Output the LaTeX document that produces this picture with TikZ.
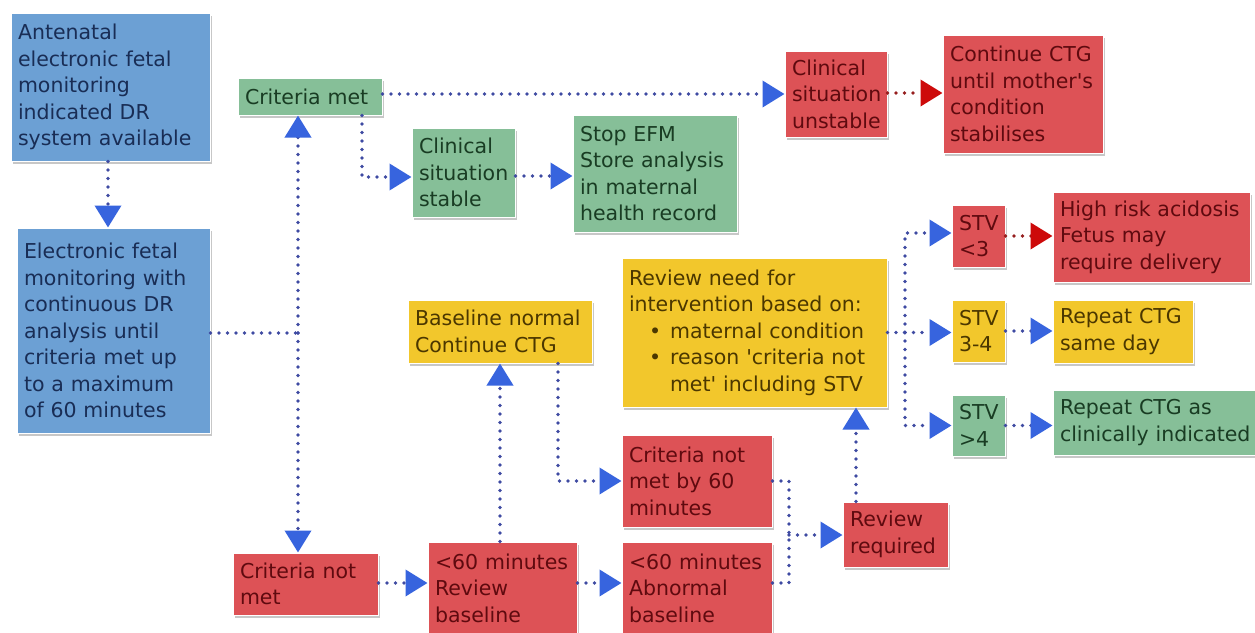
\documentclass[tikz,border=0pt]{standalone}
\usepackage{fontspec}
\setmainfont{DejaVu Sans}[Ligatures=TeXOff]
\usetikzlibrary{arrows.meta,shadows,calc}
\definecolor{bfill}{RGB}{108,160,212}
\definecolor{btext}{RGB}{25,45,85}
\definecolor{gfill}{RGB}{134,191,152}
\definecolor{gtext}{RGB}{25,60,35}
\definecolor{rfill}{RGB}{221,82,86}
\definecolor{rtext}{RGB}{95,10,15}
\definecolor{yfill}{RGB}{242,199,44}
\definecolor{ytext}{RGB}{75,55,0}
\definecolor{lineblue}{RGB}{62,74,162}
\definecolor{arrowblue}{RGB}{55,100,222}
\definecolor{arrowred}{RGB}{205,10,10}
\definecolor{linered}{RGB}{150,30,30}
\tikzset{
  box/.style={draw=white, line width=1pt, inner xsep=7pt, inner ysep=3pt, align=left,
    font=\fontsize{20.5}{26.5}\selectfont,
    drop shadow={shadow xshift=1.5pt, shadow yshift=-2.5pt, fill=black, opacity=0.22}},
  blu/.style={box, fill=bfill, text=btext},
  grn/.style={box, fill=gfill, text=gtext},
  rd/.style={box, fill=rfill, text=rtext},
  yel/.style={box, fill=yfill, text=ytext},
  dotline/.style={draw=lineblue, line width=3.8pt, line cap=round, dash pattern=on 0pt off 8.5pt},
  conn/.style={dotline, -{Triangle[length=22pt,width=26pt,color=arrowblue]}},
  rconn/.style={draw=linered, line width=3.8pt, line cap=round, dash pattern=on 0pt off 8.5pt,
    -{Triangle[length=22pt,width=26pt,color=arrowred]}}
}
\begin{document}
\begin{tikzpicture}[x=1pt,y=-1pt]
\fill[white] (0,0) rectangle (1255,632);
\useasboundingbox (0,0) rectangle (1255,632);
% boxes
\node[blu, text width=185pt, minimum height=148pt] (A) at (110.5,87) {Antenatal\\electronic fetal\\monitoring\\indicated DR\\system available};
\node[blu, text width=179pt, minimum height=205pt] (B) at (113.5,330.5) {Electronic fetal\\monitoring with\\continuous DR\\analysis until\\criteria met up\\to a maximum\\of 60 minutes};
\node[grn, text width=130pt, minimum height=37pt] (CM) at (310,96.5) {Criteria met};
\node[grn, text width=89pt, minimum height=89pt] (CS) at (463.5,172.5) {Clinical\\situation\\stable};
\node[grn, text width=150pt, minimum height=117pt] (SE) at (655,173.5) {Stop EFM\\Store analysis\\in maternal\\health record};
\node[rd, text width=88pt, minimum height=86pt] (CU) at (836,94) {Clinical\\situation\\unstable};
\node[rd, text width=146pt, minimum height=118pt] (CC) at (1023,94) {Continue CTG\\until mother's\\condition\\stabilises};
\node[rd, text width=39pt, minimum height=62pt] (S1) at (978.5,236) {STV\\<3};
\node[rd, text width=183pt, minimum height=90pt] (H1) at (1151.5,237) {High risk acidosis\\Fetus may\\require delivery};
\node[yel, text width=39pt, minimum height=62pt] (S2) at (978.5,331) {STV\\3-4};
\node[yel, text width=126pt, minimum height=63pt] (R2) at (1123,331.5) {Repeat CTG\\same day};
\node[grn, text width=39pt, minimum height=61pt] (S3) at (978.5,425.5) {STV\\>4};
\node[grn, text width=195pt, minimum height=65pt] (R3) at (1157.5,422.5) {Repeat CTG as\\clinically indicated};
\node[yel, text width=251pt, minimum height=149pt] (RN) at (754.5,332.5) {Review need for\\intervention based on:\\\hspace*{20pt}\textbullet\hspace{9pt}maternal condition\\\hspace*{20pt}\textbullet\hspace{9pt}reason 'criteria not\\\hspace*{41pt}met' including STV};
\node[yel, text width=170pt, minimum height=63pt] (BN) at (500,331.5) {Baseline normal\\Continue CTG};
\node[rd, text width=131pt, minimum height=62pt] (CNM) at (305.5,584) {Criteria not\\met};
\node[rd, text width=135pt, minimum height=92pt] (RB) at (502.5,588) {<60 minutes\\Review\\baseline};
\node[rd, text width=136pt, minimum height=92pt] (CN6) at (697,481) {Criteria not\\met by 60\\minutes};
\node[rd, text width=136pt, minimum height=92pt] (AB) at (697,588) {<60 minutes\\Abnormal\\baseline};
\node[rd, text width=91pt, minimum height=65pt] (RR) at (895.5,534.5) {Review\\required};
% junction points
\coordinate (J) at (298,333);
\coordinate (M) at (789,535);
\coordinate (K) at (905,332.5);
% connectors
\draw[conn] (A.south -| 108,0) -- (108,0 |- B.north);
\draw[dotline] (B.east |- J) -- (J);
\draw[conn] (J) -- (J |- CM.south);
\draw[conn] (J) -- (J |- CNM.north);
\draw[conn] (CM.east |- 0,94) -- (CU.west |- 0,94);
\draw[conn] ([xshift=52pt]CM.south) |- (CS.west |- 0,177);
\draw[conn] (CS.east |- 0,176) -- (SE.west |- 0,176);
\draw[rconn] (CU.east |- 0,93) -- (CC.west |- 0,93);
\draw[conn] (CNM.east |- 0,583) -- (RB.west |- 0,583);
\draw[conn] (BN.south |- RB.north) -- (BN.south);
\draw[conn] (RB.east |- 0,583) -- (AB.west |- 0,583);
\draw[conn] ([xshift=58pt]BN.south) |- (CN6.west);
\draw[dotline] (CN6.east) -| (M);
\draw[dotline] (AB.east |- 0,583) -| (M);
\draw[conn] (M) -- (M -| RR.west);
\draw[conn] (856,0 |- RR.north) -- (856,0 |- RN.south);
\draw[dotline] (RN.east |- K) -- (K);
\draw[conn] (K) |- (S1.west |- 0,233);
\draw[conn] (K) -- (K -| S2.west);
\draw[conn] (K) |- (S3.west);
\draw[rconn] (S1.east) -- (S1.east -| H1.west);
\draw[conn] (S2.east) -- (S2.east -| R2.west);
\draw[conn] (S3.east) -- (S3.east -| R3.west);
\end{tikzpicture}
\end{document}
